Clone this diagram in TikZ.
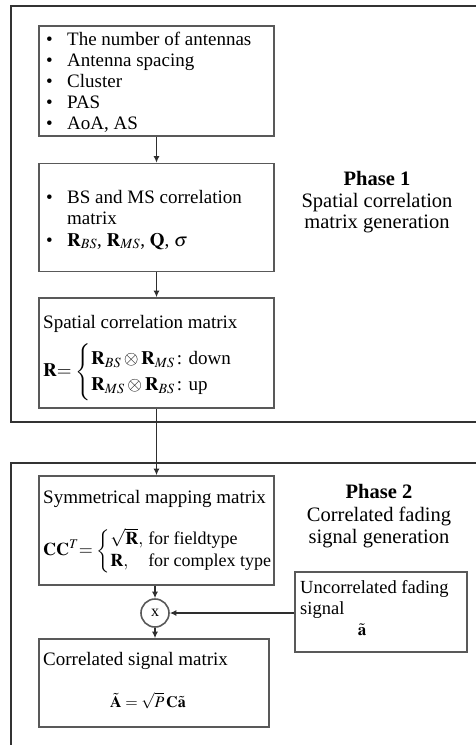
\documentclass[tikz,border=0pt]{standalone}
\usepackage{amsmath}
\usepackage{mathptmx}
\usepackage{fontspec}
\setmainfont{Liberation Serif}
\usetikzlibrary{arrows.meta}
\begin{document}
\begin{tikzpicture}[x=1pt,y=-1pt,
  frame/.style={draw=black!80,line width=1.8pt},
  blk/.style={draw=black!65,line width=1.6pt,rectangle,inner sep=0pt},
  txt/.style={inner sep=0pt,font=\fontsize{19}{21}\selectfont},
  lab/.style={inner sep=0pt,font=\fontsize{20.5}{22}\selectfont},
  arr/.style={draw=black!82,line width=1.4pt,-{Latex[length=6.5pt,width=6pt]}}]
\useasboundingbox (0,0) rectangle (475,745);
% phase frames
\draw[frame] (480,6) -- (11,6) -- (11,422) -- (480,422);
\draw[frame] (480,463) -- (11,463) -- (11,750);
% blocks
\node[blk,minimum width=235pt,minimum height=110pt] (b1) at (156.5,81) {};
\node[blk,minimum width=235pt,minimum height=108pt] (b2) at (156.5,217.5) {};
\node[blk,minimum width=235pt,minimum height=110pt] (b3) at (156.5,353) {};
\node[blk,minimum width=235pt,minimum height=109pt] (b4) at (156.5,530.5) {};
\node[blk,minimum width=230pt,minimum height=88pt] (b5) at (154,683) {};
\node[blk,minimum width=172pt,minimum height=80pt] (unc) at (381,612) {};
\node[blk,circle,minimum size=28pt,font=\fontsize{16}{16}\selectfont] (mul) at (155,613) {x};
% block 1 text
\node[txt,anchor=base west] (t1) at (46,45) {\begin{tabular}[t]{@{}p{21pt}@{}l@{}}
\textbullet & The number of antennas\\
\textbullet & Antenna spacing\\
\textbullet & Cluster\\
\textbullet & PAS\\
\textbullet & AoA, AS
\end{tabular}};
% block 2 text
\node[txt,anchor=base west,font=\fontsize{19}{21.5}\selectfont] (t2) at (46,203) {\begin{tabular}[t]{@{}p{21pt}@{}l@{}}
\textbullet & BS and MS correlation\\
 & matrix\\
\textbullet & $\mathbf{R}_{BS}$, $\mathbf{R}_{MS}$, $\mathbf{Q}$, $\sigma$
\end{tabular}};
% block 3 text
\node[txt,anchor=base west] (t3) at (43,328) {Spatial correlation matrix};
\node[txt,anchor=west] (f3) at (43,372) {$\mathbf{R}{=}\,\left\{\renewcommand{\arraystretch}{1.25}\begin{array}{@{}l@{}}
\mathbf{R}_{BS}\otimes\mathbf{R}_{MS}\,\text{: down}\\
\mathbf{R}_{MS}\otimes\mathbf{R}_{BS}\,\text{: up}
\end{array}\right.$};
% block 4 text
\node[txt,anchor=base west] (t4) at (43,503) {Symmetrical mapping matrix};
\node[txt,anchor=west,font=\fontsize{18}{20}\selectfont] (f4) at (43,551) {$\mathbf{C}\mathbf{C}^{T}{=}\,\left\{\renewcommand{\arraystretch}{1.1}\begin{array}{@{}l@{\hspace{5pt}}l@{}}
\sqrt{\mathbf{R}}, & \text{for fieldtype}\\
\mathbf{R}, & \text{for complex type}
\end{array}\right.$};
% block 5 text
\node[txt,anchor=base west] (t5) at (43,665) {Correlated signal matrix};
\node[txt,anchor=base,font=\fontsize{16}{18}\selectfont] (f5) at (148,707) {$\tilde{\mathbf{A}}=\sqrt{P}\,\mathbf{C}\tilde{\mathbf{a}}$};
% uncorrelated block text
\node[txt,anchor=base west,font=\fontsize{18.5}{21}\selectfont] (u1) at (300,593) {Uncorrelated fading};
\node[txt,anchor=base west,font=\fontsize{18.5}{21}\selectfont] (u2) at (300,614) {signal};
\node[txt,anchor=base,font=\fontsize{17}{18}\selectfont] (u3) at (362,635) {$\tilde{\mathbf{a}}$};
% phase labels
\node[lab,anchor=base,font=\bfseries\fontsize{20.5}{22}\selectfont] (p1a) at (377,185) {Phase 1};
\node[lab,anchor=base] (p1b) at (377,207) {Spatial correlation};
\node[lab,anchor=base] (p1c) at (377,228) {matrix generation};
\node[lab,anchor=base,font=\bfseries\fontsize{20.5}{22}\selectfont] (p2a) at (379,498) {Phase 2};
\node[lab,anchor=base] (p2b) at (379,521) {Correlated fading};
\node[lab,anchor=base] (p2c) at (379,543) {signal generation};
% connectors
\draw[arr] (b1.south) -- (b2.north);
\draw[arr] (b2.south) -- (b3.north);
\draw[arr] (b3.south) -- (b4.north);
\draw[arr] (b4.south -| mul) -- (mul.north);
\draw[arr] (mul.south) -- (mul |- b5.north);
\draw[arr] (unc.west |- mul) -- (mul.east);
\end{tikzpicture}
\end{document}
